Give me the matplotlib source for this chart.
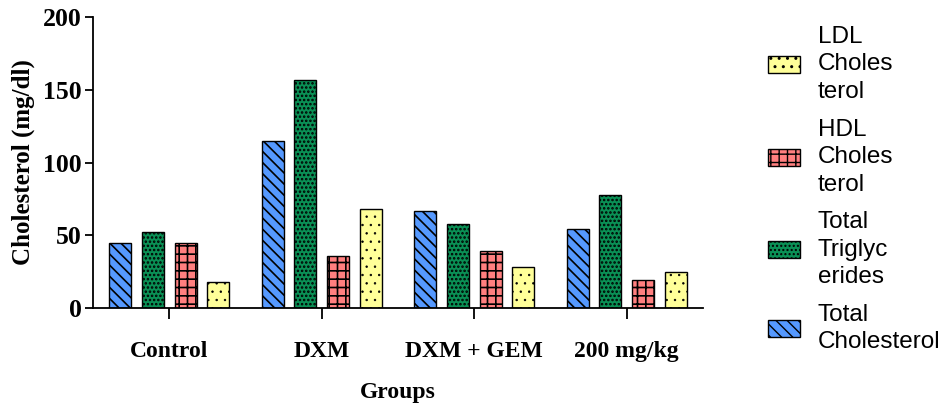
import numpy as np
import matplotlib.pyplot as plt
from matplotlib.patches import Patch

groups = ['Control', 'DXM', 'DXM + GEM', '200 mg/kg']
total_chol = [45, 115, 67, 54]
total_tg = [52, 157, 58, 78]
hdl = [45, 36, 39, 19]
ldl = [18, 68, 28, 25]

series = [
    ('Total\nCholesterol', total_chol, '#5599ff', '\\\\\\', 1.2),
    ('Total\nTriglyc\nerides', total_tg, '#0a9055', '....', 1.2),
    ('HDL\nCholes\nterol', hdl, '#ff7f7f', '++', 1.2),
    ('LDL\nCholes\nterol', ldl, '#ffff99', '..', 0.5),
]

fig = plt.figure(figsize=(9.43, 4.04), dpi=100)
ax = fig.add_axes([93 / 943, 96 / 404, 610 / 943, 291 / 404])

x = np.arange(len(groups))
w = 0.145
step = 0.215
handles = []
for i, (name, vals, col, hat, hlw) in enumerate(series):
    with plt.rc_context({'hatch.linewidth': hlw}):
        ax.bar(x + (i - 1.5) * step, vals, w, color=col, edgecolor='black',
               linewidth=1.0, hatch=hat)
        handles.append(Patch(facecolor=col, edgecolor='black', hatch=hat, label=name))

ax.set_xlim(-0.5, 3.5)
ax.set_ylim(0, 200)
ax.set_yticks([0, 50, 100, 150, 200])
ax.set_xticks(x)
ax.set_xticklabels(groups)
for s in ['top', 'right']:
    ax.spines[s].set_visible(False)
for s in ['left', 'bottom']:
    ax.spines[s].set_linewidth(1.3)
ax.tick_params(axis='y', length=6, width=1.3, labelsize=18.5, pad=2)
ax.tick_params(axis='x', length=8, width=1.3, labelsize=17, pad=16)
for lab in ax.get_xticklabels() + ax.get_yticklabels():
    lab.set_fontfamily('Liberation Serif')
    lab.set_fontweight('bold')

ax.set_xlabel('Groups', fontfamily='Liberation Serif', fontweight='bold',
              fontsize=17, labelpad=14)
ax.set_ylabel('Cholesterol (mg/dl)', fontfamily='Liberation Serif',
              fontweight='bold', fontsize=18, labelpad=6)

leg = fig.legend(handles=handles[::-1], loc='upper left',
                 bbox_to_anchor=(768 / 943, 1 - 26 / 404), borderpad=0, borderaxespad=0,
                 frameon=False, prop={'family': 'Liberation Sans', 'size': 17.5},
                 handlelength=1.3, handleheight=0.7, labelspacing=0.65, handletextpad=0.75)
for t in leg.get_texts():
    t.set_linespacing(1.32)

fig.savefig('out.png', dpi=100)
